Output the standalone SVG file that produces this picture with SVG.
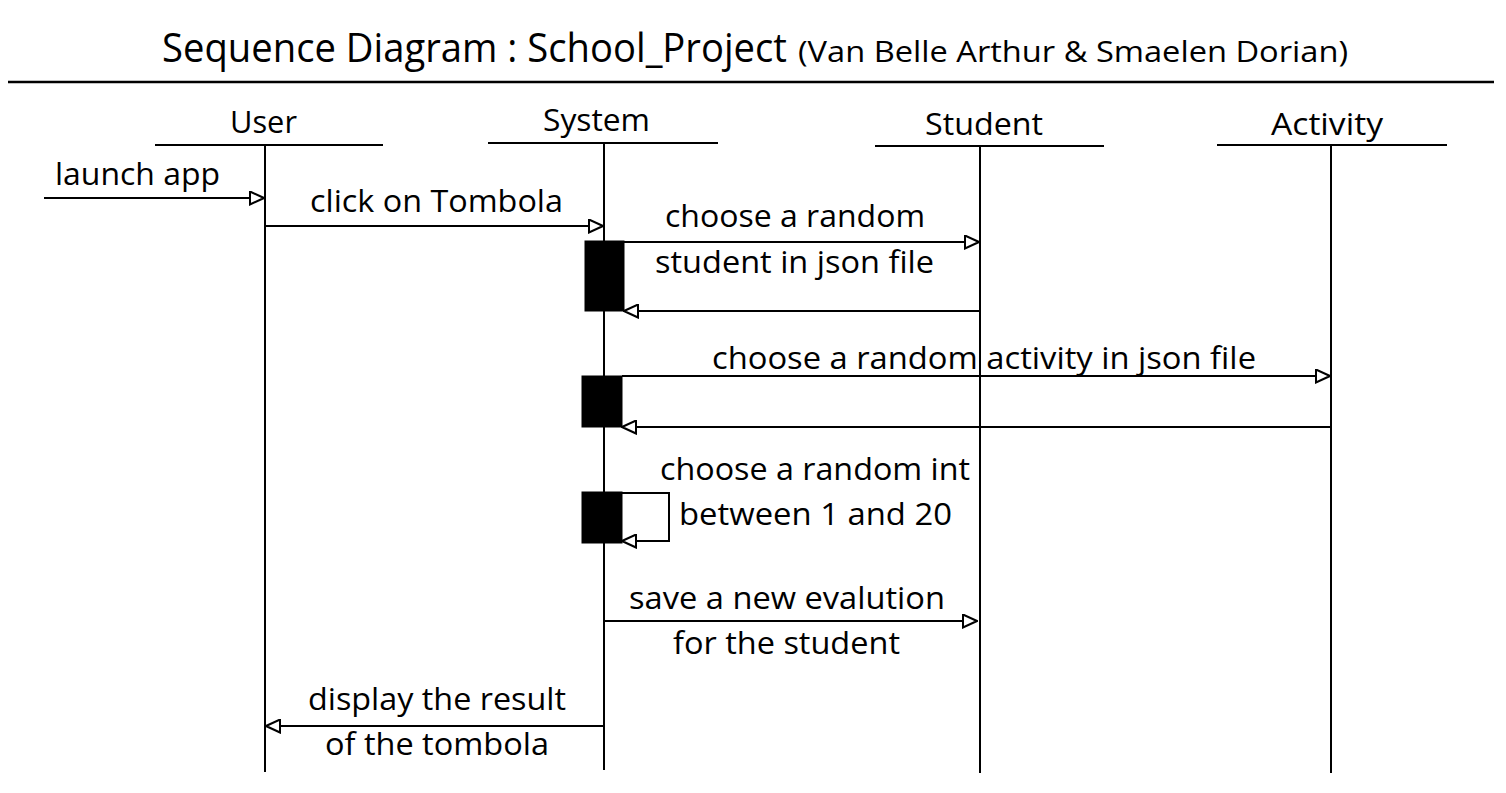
<svg xmlns="http://www.w3.org/2000/svg" width="1506" height="793" viewBox="0 0 1506 793">
<style>
text{font-family:"Open Sans","Liberation Sans",sans-serif;fill:#000;}
.lbl{font-size:31px;}
.hd{font-size:31px;}
.ln{stroke:#000;stroke-width:2;fill:none;}
.act{fill:#000;stroke:#000;stroke-width:1;}
</style>
<defs>
<marker id="arr" markerUnits="userSpaceOnUse" viewBox="-1 -1 16 15" refX="14" refY="6.5" markerWidth="16" markerHeight="15" orient="auto">
<path d="M0,0 L14,6.5 L0,13 Z" fill="#fff" stroke="#000" stroke-width="2"/>
</marker>
</defs>
<rect width="1506" height="793" fill="#fff"/>
<g id="title">
<text x="162" y="62" style="font-size:40px" textLength="625" lengthAdjust="spacingAndGlyphs">Sequence Diagram : School_Project</text>
<text x="798" y="62" style="font-size:29px" textLength="550" lengthAdjust="spacingAndGlyphs">(Van Belle Arthur &amp; Smaelen Dorian)</text>
<line x1="8" y1="82" x2="1494" y2="82" stroke="#000" stroke-width="2.5"/>
</g>
<g id="user">
<text class="hd" x="230" y="133" textLength="67" lengthAdjust="spacingAndGlyphs">User</text>
<line class="ln" x1="155" y1="145" x2="383" y2="145"/>
<line class="ln" x1="265" y1="145" x2="265" y2="772"/>
</g>
<g id="system">
<text class="hd" x="543" y="131" textLength="107" lengthAdjust="spacingAndGlyphs">System</text>
<line class="ln" x1="488" y1="143" x2="718" y2="143"/>
<line class="ln" x1="604" y1="143" x2="604" y2="770"/>
</g>
<g id="student">
<text class="hd" x="925" y="135" textLength="118" lengthAdjust="spacingAndGlyphs">Student</text>
<line class="ln" x1="875" y1="146" x2="1104" y2="146"/>
<line class="ln" x1="980" y1="146" x2="980" y2="773"/>
</g>
<g id="activity">
<text class="hd" x="1271" y="135" textLength="112" lengthAdjust="spacingAndGlyphs">Activity</text>
<line class="ln" x1="1217" y1="145" x2="1447" y2="145"/>
<line class="ln" x1="1331" y1="145" x2="1331" y2="773"/>
</g>
<g id="activations">
<rect class="act" x="585" y="241" width="39" height="70"/>
<rect class="act" x="582" y="376" width="40" height="51"/>
<rect class="act" x="582" y="492" width="40" height="51"/>
</g>
<g id="connectors">
<line class="ln" x1="44" y1="198" x2="264" y2="198" marker-end="url(#arr)"/>
<line class="ln" x1="265" y1="226" x2="603" y2="226" marker-end="url(#arr)"/>
<line class="ln" x1="624" y1="242" x2="979" y2="242" marker-end="url(#arr)"/>
<line class="ln" x1="979" y1="311" x2="624" y2="311" marker-end="url(#arr)"/>
<line class="ln" x1="622" y1="376" x2="1330" y2="376" marker-end="url(#arr)"/>
<line class="ln" x1="1330" y1="427" x2="622" y2="427" marker-end="url(#arr)"/>
<polyline class="ln" points="622,493 669,493 669,541 622,541" marker-end="url(#arr)"/>
<line class="ln" x1="605" y1="621" x2="977" y2="621" marker-end="url(#arr)"/>
<line class="ln" x1="603" y1="726" x2="266" y2="726" marker-end="url(#arr)"/>
</g>
<g id="labels">
<text class="lbl" x="55" y="185" textLength="165" lengthAdjust="spacingAndGlyphs">launch app</text>
<text class="lbl" x="310" y="212" textLength="253" lengthAdjust="spacingAndGlyphs">click on Tombola</text>
<text class="lbl" x="665" y="227" textLength="260" lengthAdjust="spacingAndGlyphs">choose a random</text>
<text class="lbl" x="655" y="273" textLength="279" lengthAdjust="spacingAndGlyphs">student in json file</text>
<text class="lbl" x="712" y="369" textLength="544" lengthAdjust="spacingAndGlyphs">choose a random activity in json file</text>
<text class="lbl" x="660" y="480" textLength="310" lengthAdjust="spacingAndGlyphs">choose a random int</text>
<text class="lbl" x="679" y="525" textLength="273" lengthAdjust="spacingAndGlyphs">between 1 and 20</text>
<text class="lbl" x="629" y="609" textLength="316" lengthAdjust="spacingAndGlyphs">save a new evalution</text>
<text class="lbl" x="673" y="654" textLength="227" lengthAdjust="spacingAndGlyphs">for the student</text>
<text class="lbl" x="308" y="710" textLength="258" lengthAdjust="spacingAndGlyphs">display the result</text>
<text class="lbl" x="325" y="755" textLength="224" lengthAdjust="spacingAndGlyphs">of the tombola</text>
</g>
</svg>
